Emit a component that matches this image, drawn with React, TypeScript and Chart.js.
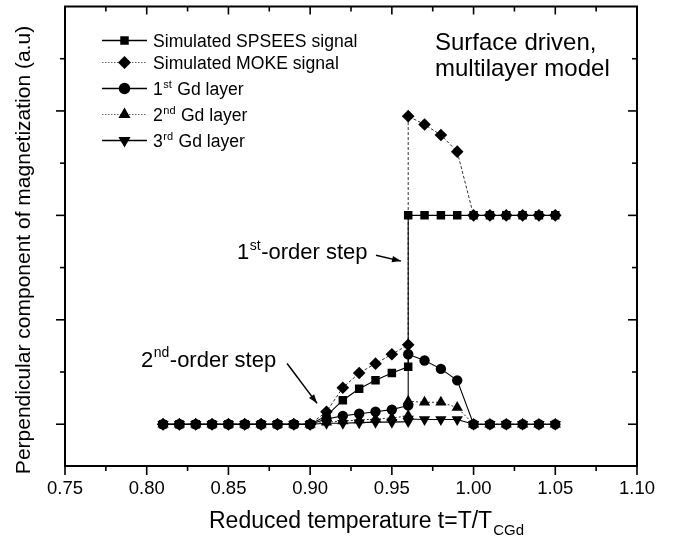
import React, { useEffect, useRef } from 'react';
import { Chart, registerables } from 'chart.js';

Chart.register(...registerables);

// ---- data ----
const temperature = [0.81, 0.82, 0.83, 0.84, 0.85, 0.86, 0.87, 0.88, 0.89, 0.9, 0.91, 0.92, 0.93, 0.94, 0.95, 0.96, 0.96, 0.97, 0.98, 0.99, 1.0, 1.01, 1.02, 1.03, 1.04, 1.05];
const spseesSignal = [0, 0, 0, 0, 0, 0, 0, 0, 0, 0, 0.08, 0.23, 0.34, 0.42, 0.49, 0.55, 2.0, 2.0, 2.0, 2.0, 2.0, 2.0, 2.0, 2.0, 2.0, 2.0];
const mokeSignal = [0, 0, 0, 0, 0, 0, 0, 0, 0, 0, 0.12, 0.35, 0.49, 0.58, 0.67, 0.76, 2.95, 2.87, 2.77, 2.61, 2.0, 2.0, 2.0, 2.0, 2.0, 2.0];
const gdLayer1 = [0, 0, 0, 0, 0, 0, 0, 0, 0, 0, 0.05, 0.08, 0.1, 0.12, 0.14, 0.18, 0.67, 0.61, 0.53, 0.42, 0, 0, 0, 0, 0, 0];
const gdLayer2 = [0, 0, 0, 0, 0, 0, 0, 0, 0, 0, 0.02, 0.03, 0.04, 0.05, 0.06, 0.08, 0.22, 0.21, 0.21, 0.16, 0, 0, 0, 0, 0, 0];
const gdLayer3 = [0, 0, 0, 0, 0, 0, 0, 0, 0, 0, 0.01, 0.01, 0.015, 0.02, 0.02, 0.025, 0.05, 0.045, 0.045, 0.045, 0, 0, 0, 0, 0, 0];

const xTickValues = [0.75, 0.8, 0.85, 0.9, 0.95, 1.0, 1.05, 1.1];
const xMinorTicks = [0.775, 0.825, 0.875, 0.925, 0.975, 1.025, 1.075];
const yMajorTicks = [0, 1, 2, 3];
const yMinorTicks = [0.5, 1.5, 2.5, 3.5];

// legend labels: [base, superscript, rest]
const seriesLabels: [string, string, string][] = [
  ['Simulated SPSEES signal', '', ''],
  ['Simulated MOKE signal', '', ''],
  ['1', 'st', ' Gd layer'],
  ['2', 'nd', ' Gd layer'],
  ['3', 'rd', ' Gd layer'],
];
const seriesValues = [spseesSignal, mokeSignal, gdLayer1, gdLayer2, gdLayer3];
const markerShapes = ['rect', 'rectRot', 'circle', 'triangle', 'triangleDown'];

const FONT = '"Liberation Sans", Arial, Helvetica, sans-serif';

function drawMarker(ctx: CanvasRenderingContext2D, shape: string, x: number, y: number, r: number) {
  ctx.beginPath();
  if (shape === 'rect') {
    const s = r * Math.SQRT1_2;
    ctx.rect(x - s, y - s, 2 * s, 2 * s);
  } else if (shape === 'rectRot') {
    ctx.moveTo(x - r, y);
    ctx.lineTo(x, y - r);
    ctx.lineTo(x + r, y);
    ctx.lineTo(x, y + r);
    ctx.closePath();
  } else if (shape === 'circle') {
    ctx.arc(x, y, r, 0, Math.PI * 2);
  } else {
    const dir = shape === 'triangle' ? 1 : -1;
    let a = 0;
    ctx.moveTo(x + Math.sin(a) * r, y - dir * Math.cos(a) * r);
    a += (2 * Math.PI) / 3;
    ctx.lineTo(x + Math.sin(a) * r, y - dir * Math.cos(a) * r);
    a += (2 * Math.PI) / 3;
    ctx.lineTo(x + Math.sin(a) * r, y - dir * Math.cos(a) * r);
    ctx.closePath();
  }
  ctx.fill();
}

function line(ctx: CanvasRenderingContext2D, x1: number, y1: number, x2: number, y2: number) {
  ctx.beginPath();
  ctx.moveTo(x1, y1);
  ctx.lineTo(x2, y2);
  ctx.stroke();
}

function arrow(ctx: CanvasRenderingContext2D, x1: number, y1: number, x2: number, y2: number) {
  ctx.lineWidth = 1.5;
  line(ctx, x1, y1, x2, y2);
  const ang = Math.atan2(y2 - y1, x2 - x1);
  const len = 9;
  const wid = 3.2;
  ctx.beginPath();
  ctx.moveTo(x2, y2);
  ctx.lineTo(x2 - len * Math.cos(ang) + wid * Math.sin(ang), y2 - len * Math.sin(ang) - wid * Math.cos(ang));
  ctx.lineTo(x2 - len * Math.cos(ang) - wid * Math.sin(ang), y2 - len * Math.sin(ang) + wid * Math.cos(ang));
  ctx.closePath();
  ctx.fill();
}

// text with superscript: returns end x
function supText(ctx: CanvasRenderingContext2D, x: number, y: number, base: string, sup: string, rest: string, size: number) {
  ctx.textAlign = 'left';
  ctx.textBaseline = 'alphabetic';
  ctx.font = `${size}px ${FONT}`;
  ctx.fillText(base, x, y);
  let cx = x + ctx.measureText(base).width;
  if (sup) {
    ctx.font = `${Math.round(size * 0.62)}px ${FONT}`;
    ctx.fillText(sup, cx + 0.5, y - size * 0.42);
    cx += ctx.measureText(sup).width + 1;
    ctx.font = `${size}px ${FONT}`;
  }
  if (rest) {
    ctx.fillText(rest, cx, y);
    cx += ctx.measureText(rest).width;
  }
  return cx;
}

const overlayPlugin = {
  id: 'overlay',
  afterDraw(chart: any) {
    const ctx: CanvasRenderingContext2D = chart.ctx;
    const { left, right, top, bottom } = chart.chartArea;
    const xs = chart.scales.x;
    const ys = chart.scales.y;
    ctx.save();
    ctx.strokeStyle = '#000';
    ctx.fillStyle = '#000';

    // frame
    ctx.lineWidth = 2;
    ctx.strokeRect(left, top, right - left, bottom - top);

    // ticks
    ctx.lineWidth = 1.6;
    xTickValues.forEach((v) => {
      const px = xs.getPixelForValue(v);
      line(ctx, px, bottom, px, bottom + 9);
      line(ctx, px, top, px, top + 8);
    });
    xMinorTicks.forEach((v) => {
      const px = xs.getPixelForValue(v);
      line(ctx, px, bottom, px, bottom + 5);
      line(ctx, px, top, px, top + 5);
    });
    yMajorTicks.forEach((v) => {
      const py = ys.getPixelForValue(v);
      line(ctx, left - 9, py, left, py);
      line(ctx, right - 9, py, right, py);
    });
    yMinorTicks.forEach((v) => {
      const py = ys.getPixelForValue(v);
      line(ctx, left - 5, py, left, py);
      line(ctx, right - 5, py, right, py);
    });

    // legend
    const legendRows = [34, 56, 82, 108, 134];
    const legendR = [6, 6.5, 5.7, 7, 7];
    seriesLabels.forEach((lab, i) => {
      const y = top + legendRows[i];
      const x1 = left + 37;
      const x2 = left + 82;
      ctx.save();
      if (i === 1 || i === 3) {
        ctx.strokeStyle = '#666';
        ctx.lineWidth = 1;
        ctx.setLineDash([1.5, 1.5]);
      } else {
        ctx.lineWidth = 1.5;
      }
      line(ctx, x1, y, x2, y);
      ctx.restore();
      drawMarker(ctx, markerShapes[i], (x1 + x2) / 2, y, legendR[i]);
      supText(ctx, left + 88, y + 6.5, lab[0], lab[1], lab[2], 17.6);
    });

    // "Surface driven, multilayer model"
    ctx.font = `24px ${FONT}`;
    ctx.textAlign = 'left';
    ctx.textBaseline = 'alphabetic';
    ctx.fillText('Surface driven,', xs.getPixelForValue(0.9764), ys.getPixelForValue(3.584));
    ctx.fillText('multilayer model', xs.getPixelForValue(0.9764), ys.getPixelForValue(3.333));

    // annotations
    supText(ctx, xs.getPixelForValue(0.8553), ys.getPixelForValue(1.581), '1', 'st', '-order step', 22);
    arrow(ctx, xs.getPixelForValue(0.9403), ys.getPixelForValue(1.619), xs.getPixelForValue(0.9556), ys.getPixelForValue(1.562));
    supText(ctx, xs.getPixelForValue(0.7965), ys.getPixelForValue(0.552), '2', 'nd', '-order step', 22);
    arrow(ctx, xs.getPixelForValue(0.8859), ys.getPixelForValue(0.581), xs.getPixelForValue(0.9042), ys.getPixelForValue(0.2));

    // x title
    ctx.font = `23px ${FONT}`;
    const mainT = 'Reduced temperature t=T/T';
    const subT = 'CGd';
    const wMain = ctx.measureText(mainT).width;
    ctx.font = `15px ${FONT}`;
    const wSub = ctx.measureText(subT).width;
    const cx = 366;
    const sx = cx - (wMain + wSub) / 2;
    ctx.font = `23px ${FONT}`;
    ctx.fillText(mainT, sx, 528);
    ctx.font = `15px ${FONT}`;
    ctx.fillText(subT, sx + wMain + 1, 535);

    // y title
    ctx.save();
    ctx.translate(30, 250);
    ctx.rotate(-Math.PI / 2);
    ctx.font = `21px ${FONT}`;
    ctx.textAlign = 'center';
    ctx.fillText('Perpendicular component of magnetization (a.u)', 0, 0);
    ctx.restore();

    ctx.restore();
  },
};

export default function App() {
  const ref = useRef<HTMLCanvasElement | null>(null);
  useEffect(() => {
    if (!ref.current) return;
    const styles = [
      { r: 6, dash: [] as number[], color: '#000', w: 1.1 },
      { r: 6.3, dash: [3, 2], color: '#333', w: 1 },
      { r: 5.2, dash: [] as number[], color: '#000', w: 1.1 },
      { r: 6.5, dash: [2, 2], color: '#333', w: 1 },
      { r: 6.5, dash: [] as number[], color: '#000', w: 1.1 },
    ];
    const datasets = seriesValues.map((vals, i) => ({
      label: seriesLabels[i].join(''),
      data: temperature.map((t, k) => ({ x: t, y: vals[k] })),
      showLine: true,
      borderColor: styles[i].color,
      borderWidth: styles[i].w,
      borderDash: styles[i].dash,
      backgroundColor: '#000',
      pointBackgroundColor: '#000',
      pointBorderColor: '#000',
      pointBorderWidth: 0,
      pointRadius: styles[i].r,
      pointStyle: markerShapes[i] === 'triangleDown' ? 'triangle' : markerShapes[i],
      pointRotation: markerShapes[i] === 'triangleDown' ? 180 : 0,
      tension: 0,
    }));
    const chart = new Chart(ref.current, {
      type: 'scatter',
      data: { datasets },
      options: {
        animation: false,
        responsive: false,
        devicePixelRatio: 1,
        layout: { padding: { left: 65, right: 43, top: 4, bottom: 0 } },
        plugins: { legend: { display: false }, tooltip: { enabled: false } },
        scales: {
          x: {
            type: 'linear',
            min: 0.75,
            max: 1.1,
            grid: { display: false, drawTicks: false },
            border: { display: false },
            afterFit: (s: any) => {
              s.height = 75;
            },
            afterBuildTicks: (s: any) => {
              s.ticks = xTickValues.map((v) => ({ value: v }));
            },
            ticks: {
              padding: 12,
              color: '#000',
              font: { family: FONT, size: 18.5 },
              maxRotation: 0,
              autoSkip: false,
              callback: (v: any) => Number(v).toFixed(2),
            },
          },
          y: {
            type: 'linear',
            min: -0.4,
            max: 4.0,
            display: false,
          },
        },
      },
      plugins: [overlayPlugin],
    } as any);
    return () => chart.destroy();
  }, []);
  return (
    <div style={{ position: 'fixed', left: 0, top: 0, width: 680, height: 541, background: '#fff' }}>
      <canvas ref={ref} width={680} height={541} style={{ display: 'block', width: 680, height: 541 }} />
    </div>
  );
}
